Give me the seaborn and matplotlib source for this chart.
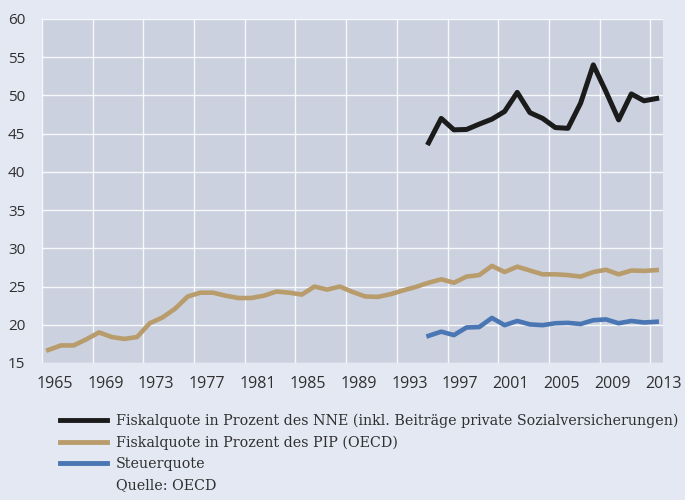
import matplotlib
matplotlib.use("Agg")
import matplotlib.pyplot as plt
from matplotlib.lines import Line2D
import pandas as pd
import seaborn as sns

# Gold: Fiskalquote in % des PIP (OECD), 1965-2013
years_pip = list(range(1965, 2014))
fiskal_pip = [16.7, 17.3, 17.3, 18.1, 19.0, 18.4, 18.15, 18.4, 20.2, 20.95,
              22.1, 23.7, 24.2, 24.2, 23.8, 23.5, 23.5, 23.8, 24.35, 24.2,
              23.95, 25.0, 24.6, 25.0, 24.3, 23.7, 23.65, 24.0, 24.5, 24.95,
              25.5, 25.95, 25.5, 26.3, 26.5, 27.7, 26.9, 27.6, 27.1, 26.6,
              26.6, 26.5, 26.3, 26.9, 27.2, 26.6, 27.1, 27.05, 27.15]

# Black and blue series, 1995-2013
years_nne = list(range(1995, 2014))
fiskal_nne = [43.8, 47.0, 45.5, 45.55, 46.25, 46.9, 47.9, 50.4, 47.75, 47.0,
              45.8, 45.7, 49.0, 54.0, 50.5, 46.8, 50.2, 49.3, 49.6]
steuerquote = [18.55, 19.1, 18.65, 19.65, 19.7, 20.9, 19.95, 20.5, 20.05, 19.95,
               20.2, 20.25, 20.1, 20.6, 20.7, 20.2, 20.5, 20.3, 20.4]

labels = ["Fiskalquote in Prozent des NNE (inkl. Beiträge private Sozialversicherungen)",
          "Fiskalquote in Prozent des PIP (OECD)",
          "Steuerquote"]
colors = ["#1b1b1b", "#b89c6c", "#4a77b4"]

df_pip = pd.DataFrame({"Jahr": years_pip, "Wert": fiskal_pip})
df_nne = pd.DataFrame({"Jahr": years_nne, "Wert": fiskal_nne})
df_st = pd.DataFrame({"Jahr": years_nne, "Wert": steuerquote})

fig_bg = "#e4e8f3"
ax_bg = "#cbd1df"
txt = "#303030"

fig = plt.figure(figsize=(6.85, 5), dpi=100, facecolor=fig_bg)
ax = fig.add_axes([42 / 685, 1 - 363 / 500, (663 - 42) / 685, (363 - 19) / 500])
ax.set_facecolor(ax_bg)

sns.lineplot(data=df_pip, x="Jahr", y="Wert", color=colors[1], lw=3.3, ax=ax)
sns.lineplot(data=df_st, x="Jahr", y="Wert", color=colors[2], lw=3.3, ax=ax)
sns.lineplot(data=df_nne, x="Jahr", y="Wert", color=colors[0], lw=3.6, ax=ax)

ax.set_xlim(1964.5, 2013.5)
ax.set_ylim(15, 60)
ax.set_yticks(range(15, 61, 5))
tick_years = list(range(1965, 2014, 4))
ax.set_xticks([y + 0.5 for y in tick_years])
ax.set_xticklabels([str(y) for y in tick_years])
ax.set_xticks([1964.5 + 4 * k for k in range(13)], minor=True)
ax.set_xlabel("")
ax.set_ylabel("")

ax.grid(False)
ax.grid(axis="y", which="major", color="white", lw=1.0, alpha=0.85)
ax.grid(axis="x", which="minor", color="white", lw=1.0, alpha=0.85)
ax.set_axisbelow(True)
for s in ax.spines.values():
    s.set_visible(False)
ax.tick_params(which="both", length=0)
ax.tick_params(axis="y", pad=12, labelsize=11, labelcolor=txt)
ax.tick_params(axis="x", pad=9, labelsize=11.5, labelcolor=txt)
for t in ax.get_xticklabels() + ax.get_yticklabels():
    t.set_family(["Open Sans", "DejaVu Sans"])
    t.set_weight("medium")

handles = [Line2D([], [], color=c, lw=3.5) for c in colors]
handles.append(Line2D([], [], color="none"))
leg = fig.legend(handles, labels + ["Quelle: OECD"], loc="upper left",
                 bbox_to_anchor=(60 / 685, 1 - 414 / 500), frameon=False,
                 borderpad=0, borderaxespad=0, handlelength=3.3,
                 handletextpad=0.62, labelspacing=0.5,
                 prop={"family": ["DejaVu Serif"], "size": 10.3})
for t in leg.get_texts():
    t.set_color(txt)

fig.savefig("out.png", dpi=100, facecolor=fig_bg)
